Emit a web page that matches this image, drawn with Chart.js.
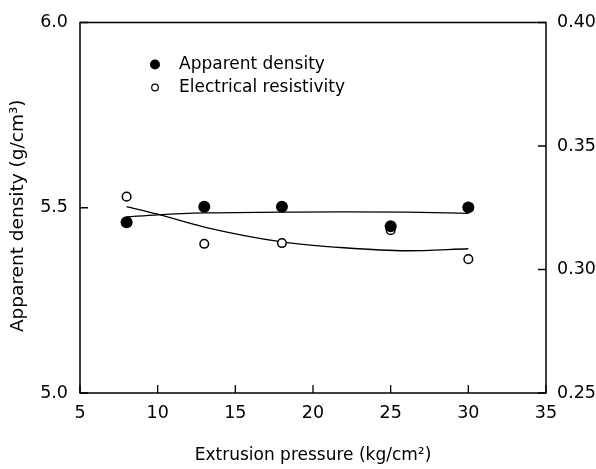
<!DOCTYPE html>
<html><head><meta charset="utf-8">
<script src="https://cdn.jsdelivr.net/npm/chart.js@4.4.0/dist/chart.umd.min.js"></script>
<style>html,body{margin:0;padding:0;background:#fff;}#wrap{width:596px;height:469px;}</style>
</head><body><div id="wrap"><canvas id="c" width="596" height="469"></canvas></div>
<script>
// ---- data ----
const pressure = [8, 13, 18, 25, 30];
const apparentDensity = [5.461, 5.503, 5.503, 5.450, 5.501];
const resistivity = [0.3295, 0.3104, 0.3107, 0.3159, 0.3042];
const fitPressure = [8, 10, 13, 18, 22, 26, 30];
const densityFit = [5.4755, 5.481, 5.486, 5.488, 5.489, 5.488, 5.485];
const resistivityFit = [0.3255, 0.3224, 0.3172, 0.3112, 0.3088, 0.3076, 0.3084];
const xTicks = [5, 10, 15, 20, 25, 30, 35];
const leftTicks = [5.0, 5.5, 6.0];
const rightTicks = [0.25, 0.30, 0.35, 0.40];
const seriesNames = ['Apparent density', 'Electrical resistivity'];
const xTitle = 'Extrusion pressure (kg/cm\u00B2)';
const yTitle = 'Apparent density (g/cm\u00B3)';

const FONT = "'DejaVu Sans', sans-serif";
const pts = (xs, ys) => xs.map((x, i) => ({x: x, y: ys[i]}));

const framePlugin = {
  id: 'frame',
  beforeDatasetsDraw(chart) {
    const {ctx, chartArea: a, scales} = chart;
    ctx.save();
    ctx.strokeStyle = '#000';
    ctx.lineWidth = 1.5;
    ctx.strokeRect(a.left, a.top, a.right - a.left, a.bottom - a.top);
    ctx.lineWidth = 1.3;
    const L = 8;
    ctx.beginPath();
    xTicks.forEach(v => { const p = scales.x.getPixelForValue(v); ctx.moveTo(p, a.bottom); ctx.lineTo(p, a.bottom - L); });
    leftTicks.forEach(v => { const p = scales.y.getPixelForValue(v); ctx.moveTo(a.left, p); ctx.lineTo(a.left + L, p); });
    rightTicks.forEach(v => { const p = scales.y2.getPixelForValue(v); ctx.moveTo(a.right, p); ctx.lineTo(a.right - L, p); });
    ctx.stroke();
    ctx.restore();
  },
  afterDraw(chart) {
    const {ctx, chartArea: a} = chart;
    ctx.save();
    // y axis title (rotated), centred slightly below the plot middle as in the reference
    ctx.fillStyle = '#000';
    ctx.font = "18.5px " + FONT;
    ctx.textAlign = 'center';
    ctx.textBaseline = 'middle';
    ctx.translate(18, (a.top + a.bottom) / 2 + 8);
    ctx.rotate(-Math.PI / 2);
    ctx.fillText(yTitle, 0, 0);
    ctx.restore();

    ctx.save();
    const mx = a.left + 75, tx = a.left + 99;
    const y1 = a.top + 42, y2 = a.top + 65;
    ctx.fillStyle = '#000';
    ctx.beginPath(); ctx.arc(mx, y1, 5, 0, Math.PI * 2); ctx.fill();
    ctx.strokeStyle = '#000'; ctx.lineWidth = 1.2;
    ctx.beginPath(); ctx.arc(mx, y2, 3.3, 0, Math.PI * 2); ctx.stroke();
    ctx.font = "17px " + FONT;
    ctx.textBaseline = 'middle';
    ctx.textAlign = 'left';
    ctx.fillText(seriesNames[0], tx, y1);
    ctx.fillText(seriesNames[1], tx, y2);
    ctx.restore();
  }
};

new Chart(document.getElementById('c'), {
  type: 'scatter',
  data: {
    datasets: [
      {label: seriesNames[0], data: pts(pressure, apparentDensity), yAxisID: 'y', order: 0,
       pointRadius: 6, pointBackgroundColor: '#000', pointBorderWidth: 0, showLine: false},
      {label: seriesNames[1], data: pts(pressure, resistivity), yAxisID: 'y2', order: 1,
       pointRadius: 4.3, pointBackgroundColor: '#fff', pointBorderColor: '#000', pointBorderWidth: 1.5, showLine: false},
      {type: 'line', label: 'density fit', data: pts(fitPressure, densityFit), yAxisID: 'y', order: 2,
       borderColor: '#000', borderWidth: 1.3, pointRadius: 0, cubicInterpolationMode: 'monotone', fill: false},
      {type: 'line', label: 'resistivity fit', data: pts(fitPressure, resistivityFit), yAxisID: 'y2', order: 3,
       borderColor: '#000', borderWidth: 1.3, pointRadius: 0, cubicInterpolationMode: 'monotone', fill: false}
    ]
  },
  options: {
    responsive: false,
    animation: false,
    devicePixelRatio: 1,
    layout: {padding: {top: 21, left: 0, right: 0, bottom: 0}},
    plugins: {legend: {display: false}, tooltip: {enabled: false}},
    scales: {
      x: {
        type: 'linear', position: 'bottom', min: 5, max: 35,
        afterBuildTicks: s => { s.ticks = xTicks.map(v => ({value: v})); },
        afterFit: s => { s.height = 76; },
        grid: {display: false, drawTicks: false}, border: {display: false},
        ticks: {color: '#000', padding: 10, font: {family: FONT, size: 17.5}, callback: v => String(v), maxRotation: 0},
        title: {display: true, text: xTitle, color: '#000', font: {family: FONT, size: 17}, padding: {top: 0, bottom: 3}}
      },
      y: {
        type: 'linear', position: 'left', min: 5, max: 6,
        afterBuildTicks: s => { s.ticks = leftTicks.map(v => ({value: v})); },
        afterFit: s => { s.width = 80; },
        grid: {display: false, drawTicks: false}, border: {display: false},
        ticks: {color: '#000', padding: 12, font: {family: FONT, size: 17.5}, callback: v => Number(v).toFixed(1)},
        title: {display: false}
      },
      y2: {
        type: 'linear', position: 'right', min: 0.25, max: 0.40,
        afterBuildTicks: s => { s.ticks = rightTicks.map(v => ({value: v})); },
        afterFit: s => { s.width = 50; },
        grid: {display: false, drawTicks: false}, border: {display: false},
        ticks: {color: '#000', padding: 11, font: {family: FONT, size: 17.5}, callback: v => Number(v).toFixed(2)}
      }
    }
  },
  plugins: [framePlugin]
});
</script>
</body></html>
